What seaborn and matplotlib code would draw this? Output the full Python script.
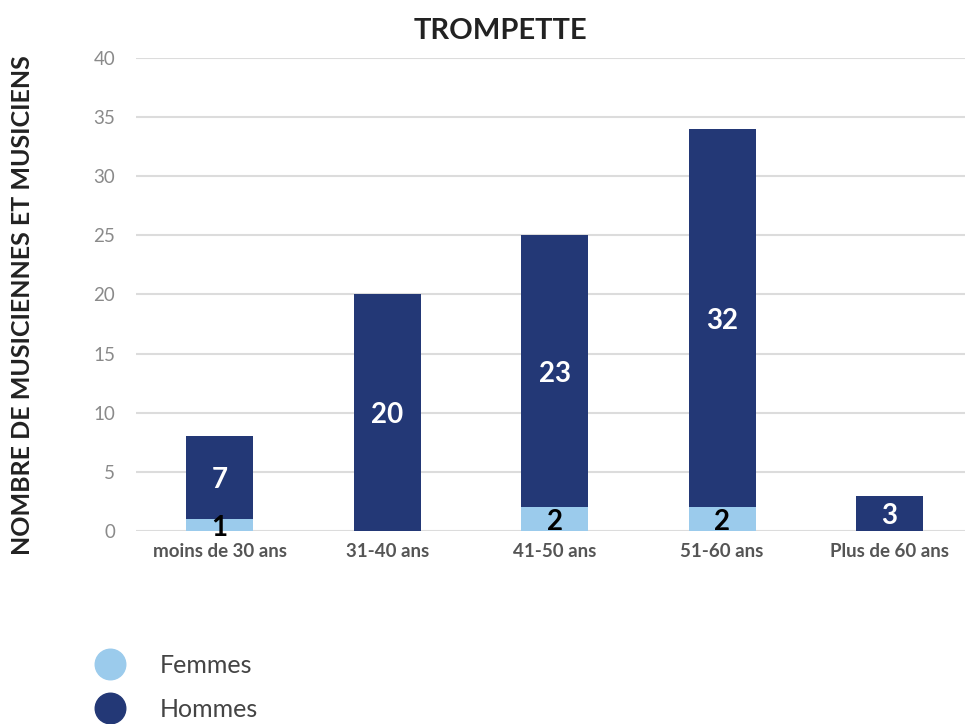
import matplotlib
matplotlib.use("Agg")
import matplotlib.pyplot as plt
from matplotlib.lines import Line2D
import numpy as np
import pandas as pd
import seaborn as sns

categories = ['moins de 30 ans', '31-40 ans', '41-50 ans', '51-60 ans', 'Plus de 60 ans']
femmes = [1, 0, 2, 2, 0]
hommes = [7, 20, 23, 32, 3]

c_femmes = '#9bcbec'
c_hommes = '#233876'

sns.set_style('white')
plt.rcParams['font.family'] = ['Lato', 'DejaVu Sans']

df = pd.DataFrame({'age': categories, 'femmes': femmes, 'hommes': hommes})
df['total'] = df['femmes'] + df['hommes']

fig = plt.figure(figsize=(9.65, 7.24), dpi=100)
ax = fig.add_axes([136 / 965, 0.2666, 829 / 965, 0.6534])

sns.barplot(data=df, x='age', y='total', color=c_hommes, width=0.4,
            saturation=1, linewidth=0, ax=ax, zorder=3)
sns.barplot(data=df, x='age', y='femmes', color=c_femmes, width=0.4,
            saturation=1, linewidth=0, ax=ax, zorder=4)

# value labels in the middle of each segment
for i, (f, h) in enumerate(zip(femmes, hommes)):
    if f > 0:
        ax.text(i, f / 2, str(f), ha='center', va='center_baseline', color='black',
                fontsize=20, fontweight='bold', zorder=5)
    if h > 0:
        ax.text(i, f + h / 2, str(h), ha='center', va='center_baseline', color='white',
                fontsize=20, fontweight='bold', zorder=5)

ax.set_xlim(-0.5, 4.45)
ax.set_ylim(0, 40)
ax.set_yticks(np.arange(0, 41, 5))
ax.yaxis.grid(True, color='#dcdcdc', linewidth=1.5, zorder=0)
ax.set_axisbelow(True)
for s in ax.spines.values():
    s.set_visible(False)
ax.tick_params(axis='y', length=0, pad=15, labelsize=13.5, labelcolor='#8a8a8a')
ax.tick_params(axis='x', length=0, pad=9, labelsize=13.5, labelcolor='#555555')
for lab in ax.get_xticklabels():
    lab.set_fontweight('bold')
ax.set_xlabel('')
ax.set_ylabel('')

fig.text(0.023, 0.579, 'NOMBRE DE MUSICIENNES ET MUSICIENS', rotation=90,
         ha='center', va='center', fontsize=18, fontweight='bold', color='#222222')
fig.text(0.519, 0.957, 'TROMPETTE', ha='center', va='center', fontsize=21,
         fontweight='bold', color='#222222')

handles = [Line2D([], [], marker='o', linestyle='', markersize=22, color=c_femmes),
           Line2D([], [], marker='o', linestyle='', markersize=22, color=c_hommes)]
fig.legend(handles, ['Femmes', 'Hommes'], loc='upper left',
           bbox_to_anchor=(0.065, 0.128), frameon=False, fontsize=18,
           labelspacing=0.85, handletextpad=1.0, labelcolor='#444444')

fig.savefig('out.png', dpi=100)
